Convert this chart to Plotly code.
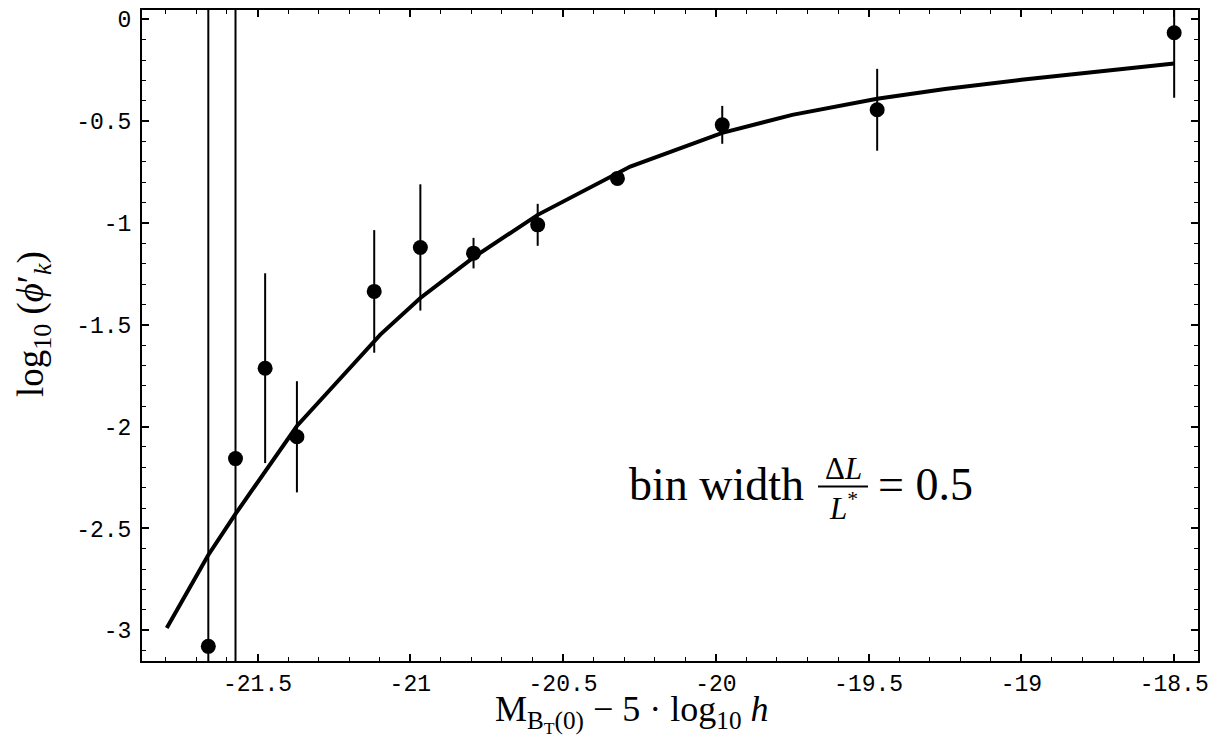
import plotly.graph_objects as go

# Data points
mag = [-21.661, -21.572, -21.475, -21.371, -21.118, -20.967, -20.793, -20.583,
       -20.322, -19.979, -19.472, -18.500]
logphi = [-3.079, -2.157, -1.713, -2.050, -1.336, -1.120, -1.148, -1.009,
          -0.781, -0.518, -0.444, -0.066]
err = [3.5, 3.5, 0.466, 0.273, 0.301, 0.310, 0.075, 0.103, 0.03, 0.093, 0.201, 0.319]

# Model curve
curve_x = [-21.797, -21.662, -21.572, -21.371, -21.25, -21.098, -20.967, -20.793,
           -20.583, -20.5, -20.28, -19.979, -19.75, -19.472, -19.25, -19.0, -18.75, -18.5]
curve_y = [-2.989, -2.633, -2.429, -1.997, -1.798, -1.548, -1.368, -1.169,
           -0.960, -0.895, -0.723, -0.557, -0.469, -0.390, -0.342, -0.297, -0.256, -0.217]

xticks = [-21.5, -21, -20.5, -20, -19.5, -19, -18.5]
yticks = [0, -0.5, -1, -1.5, -2, -2.5, -3]

# page has an 8px body margin; size the figure so it fits the 1217x747 window
OFF = 8
W, H = 1201, 731
L, R, T, B = 134, 11, 0, 78
pw, ph = W - L - R, H - T - B
PLOT_LEFT, PLOT_BOTTOM = L + OFF, T + ph + OFF   # page pixel coords


def px2paper(x, y):
    return (x - PLOT_LEFT) / pw, (PLOT_BOTTOM - y) / ph


fig = go.Figure()
fig.add_trace(go.Scatter(x=curve_x, y=curve_y, mode="lines",
                         line=dict(color="black", width=4), hoverinfo="skip"))
fig.add_trace(go.Scatter(x=mag, y=logphi, mode="markers",
                         marker=dict(color="black", size=15),
                         error_y=dict(type="data", array=err, visible=True,
                                      color="black", thickness=2, width=0)))

tickfont = dict(family="Liberation Mono", size=23, color="black")
axis_common = dict(showline=True, linecolor="black", linewidth=2, mirror="allticks",
                   ticks="inside", ticklen=7, tickwidth=1.5, tickcolor="black",
                   showgrid=False, zeroline=False, tickfont=tickfont,
                   minor=dict(ticks="inside", ticklen=4, tickwidth=1, tickcolor="black", dtick=0.1))

fig.update_xaxes(range=[-21.878, -18.422], tickvals=xticks,
                 ticktext=["%g" % v for v in xticks], **axis_common)
fig.update_yaxes(range=[-3.151, 0.046], tickvals=yticks, ticklabelstandoff=4,
                 ticktext=["%g" % v for v in yticks], **axis_common)

serif = "Liberation Serif"


def text(px, py, s, size, xanchor="center", angle=0):
    x, y = px2paper(px, py)
    return dict(x=x, y=y, xref="paper", yref="paper", showarrow=False,
                xanchor=xanchor, yanchor="middle", textangle=angle, text=s,
                font=dict(family=serif, size=size, color="black"))


ann = [
    text(631, 714, "M<sub>B<sub>T</sub>(0)</sub> − 5 · log<sub>10</sub> <i>h</i>", 36),
    text(33, 323, "log<sub>10</sub> (<i>ϕ</i>′<sub><i>k</i></sub>)", 37, angle=-90),
    text(806, 484, "bin width", 46, xanchor="right"),
    text(843, 468, "Δ<i>L</i>", 31),
    text(843, 506, "<i>L</i><sup>*</sup>", 31),
    text(876, 484, "= 0.5", 46, xanchor="left"),
]

x0, yb = px2paper(818, 486)
x1, _ = px2paper(868, 486)
shapes = [dict(type="line", xref="paper", yref="paper", x0=x0, x1=x1, y0=yb, y1=yb,
               line=dict(color="black", width=2))]

fig.update_layout(width=W, height=H, margin=dict(l=L, r=R, t=T, b=B),
                  plot_bgcolor="white", paper_bgcolor="white", showlegend=False,
                  annotations=ann, shapes=shapes)

fig.write_html("out.html")
